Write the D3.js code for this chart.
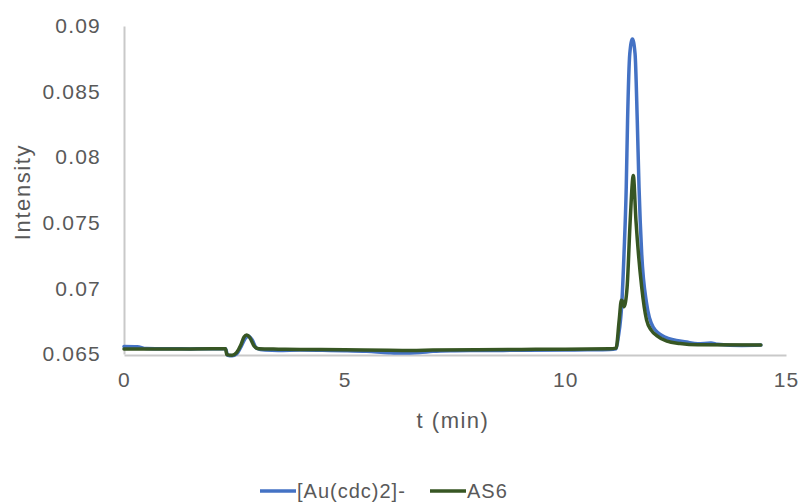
<!DOCTYPE html>
<html>
<head>
<meta charset="utf-8">
<script src="https://cdn.jsdelivr.net/npm/d3@7"></script>
<style>
  html, body { margin: 0; padding: 0; background: #fff; }
  svg { display: block; }
  text { font-family: "Liberation Sans", Arial, sans-serif; fill: #595959; }
</style>
</head>
<body>
<svg id="chart" width="800" height="502"></svg>
<script>
// Retention time (min) and detector intensity for each trace
const auTime = [0.0, 0.3, 0.5, 1.0, 1.5, 2.0, 2.3, 2.35, 2.45, 2.55, 2.65, 2.75, 2.82, 2.9, 3.0, 3.2, 3.5, 4.0, 4.5, 5.0, 5.5, 6.0, 6.3, 6.7, 7.0, 7.5, 8.0, 9.0, 10.0, 10.5, 11.0, 11.15, 11.2, 11.28, 11.33, 11.38, 11.41, 11.46, 11.52, 11.58, 11.63, 11.67, 11.73, 11.84, 11.99, 12.26, 12.75, 13.0, 13.3, 13.45, 14.0, 14.43];
const auIntensity = [0.06558, 0.06556, 0.06541, 0.06540, 0.06539, 0.06540, 0.06540, 0.06490, 0.06486, 0.06500, 0.06555, 0.06620, 0.06638, 0.06610, 0.06545, 0.06530, 0.06527, 0.06530, 0.06528, 0.06525, 0.06520, 0.06510, 0.06507, 0.06512, 0.06520, 0.06525, 0.06527, 0.06528, 0.06530, 0.06532, 0.06535, 0.06540, 0.06629, 0.06888, 0.07268, 0.07769, 0.08278, 0.08787, 0.08901, 0.08787, 0.08278, 0.07769, 0.07268, 0.06888, 0.06705, 0.06629, 0.06591, 0.06578, 0.06584, 0.06574, 0.06565, 0.06568];

const as6Time = [0.0, 1.0, 2.0, 2.3, 2.33, 2.45, 2.55, 2.65, 2.72, 2.78, 2.85, 2.95, 3.05, 3.5, 4.0, 5.0, 6.0, 6.5, 7.0, 8.0, 9.0, 10.0, 11.0, 11.15, 11.22, 11.27, 11.30, 11.33, 11.40, 11.47, 11.54, 11.60, 11.73, 11.84, 11.95, 12.07, 12.3, 12.6, 13.0, 14.43];
const as6Intensity = [0.06538, 0.06538, 0.06540, 0.06540, 0.06495, 0.06490, 0.06510, 0.06570, 0.06630, 0.06645, 0.06625, 0.06560, 0.06540, 0.06537, 0.06535, 0.06532, 0.06528, 0.06527, 0.06530, 0.06533, 0.06535, 0.06537, 0.06540, 0.06545, 0.06758, 0.06910, 0.06900, 0.06860, 0.07010, 0.07518, 0.07860, 0.07518, 0.07010, 0.06760, 0.06680, 0.06640, 0.06598, 0.06580, 0.06570, 0.06568];

const seriesNames = ["[Au(cdc)2]-", "AS6"];
const seriesColors = ["#4472C4", "#375623"];

const xTicks = [0, 5, 10, 15];
const yTicks = [0.065, 0.07, 0.075, 0.08, 0.085, 0.09];

const svg = d3.select("#chart");

const x = d3.scaleLinear().domain([0, 15]).range([124, 786]);
const y = d3.scaleLinear().domain([0.065, 0.09]).range([354, 26]);

// axes: light grey baseline and left rule, tick labels only
const axisColor = "#C9C9C9";
const labelFont = "Liberation Sans, Arial, sans-serif";

const xAxis = svg.append("g")
  .attr("transform", "translate(0,355)")
  .call(d3.axisBottom(x).tickValues(xTicks).tickFormat(d3.format("d")).tickSize(0).tickPadding(17));
xAxis.select(".domain").attr("stroke", axisColor).attr("stroke-width", 2);
xAxis.selectAll("text")
  .attr("font-size", 21).style("font-family", labelFont)
  .style("letter-spacing", "1.2px").attr("fill", "#595959");

const yAxis = svg.append("g")
  .attr("transform", "translate(124,0)")
  .call(d3.axisLeft(y).tickValues(yTicks).tickFormat(d => String(+d.toFixed(3))).tickSize(0).tickPadding(23));
yAxis.select(".domain").attr("stroke", axisColor).attr("stroke-width", 2);
yAxis.selectAll("text")
  .attr("font-size", 21).style("font-family", labelFont)
  .style("letter-spacing", "1.2px").attr("fill", "#595959");

// axis titles
svg.append("text")
  .attr("x", 453).attr("y", 428)
  .attr("text-anchor", "middle")
  .attr("font-size", 22)
  .style("letter-spacing", "1.5px")
  .text("t (min)");

svg.append("text")
  .attr("transform", "translate(30,192) rotate(-90)")
  .attr("text-anchor", "middle")
  .attr("font-size", 22)
  .style("letter-spacing", "1.6px")
  .text("Intensity");

// traces
const line = d3.line()
  .x(d => x(d[0]))
  .y(d => y(d[1]))
  .curve(d3.curveMonotoneX);

const traces = [
  d3.zip(auTime, auIntensity),
  d3.zip(as6Time, as6Intensity)
];

svg.append("g").selectAll("path")
  .data(traces)
  .join("path")
  .attr("d", line)
  .attr("fill", "none")
  .attr("stroke", (d, i) => seriesColors[i])
  .attr("stroke-width", 3.5)
  .attr("stroke-linejoin", "round")
  .attr("stroke-linecap", "round");

// legend
const legendItems = [
  { x0: 260, name: seriesNames[0], color: seriesColors[0] },
  { x0: 430, name: seriesNames[1], color: seriesColors[1] }
];
const legend = svg.append("g");
legendItems.forEach(it => {
  legend.append("line")
    .attr("x1", it.x0).attr("x2", it.x0 + 36)
    .attr("y1", 491).attr("y2", 491)
    .attr("stroke", it.color).attr("stroke-width", 3.5);
  legend.append("text")
    .attr("x", it.x0 + 37).attr("y", 498)
    .attr("font-size", 20)
    .style("letter-spacing", "1px")
    .text(it.name);
});
</script>
</body>
</html>
